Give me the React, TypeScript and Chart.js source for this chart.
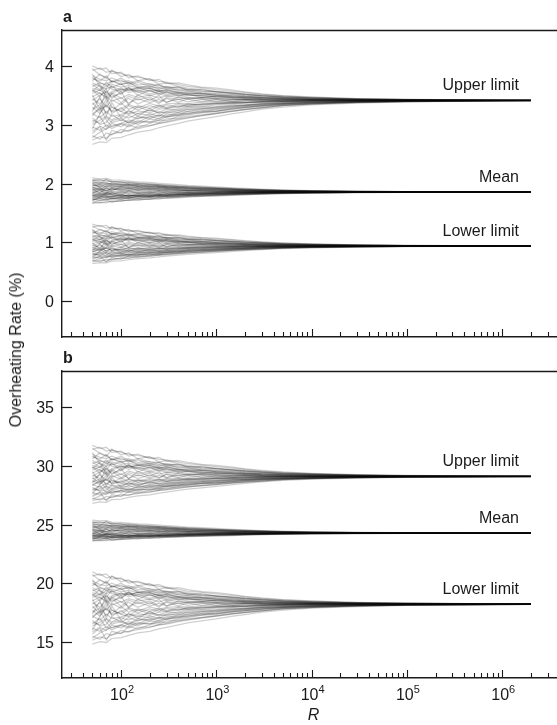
import React, { useEffect, useRef } from "react";
import { Chart, registerables } from "chart.js";

Chart.register(...registerables);

// Sample counts R at which the running estimates are recorded
const R_STEPS = [50, 60, 70, 80, 100, 120, 150, 200, 250, 300, 400, 500, 700, 1000, 1500, 2000, 3000, 5000, 1e4, 3e4, 1e5, 1e6, 2e6];

// Deviation of each replicate's running estimate from its converged value,
// expressed as a fraction of the band half-width at R = 50
const REPLICATE_DEVIATIONS: number[][] = [
  [0.62, 0.55, 0.7, 0.52, 0.58, 0.46, 0.52, 0.4, 0.44, 0.34, 0.38, 0.3, 0.32, 0.24, 0.22, 0.18, 0.15, 0.11, 0.07, 0.04, 0.02, 0.008, 0.005],
  [-0.45, -0.52, -0.38, -0.5, -0.44, -0.5, -0.36, -0.42, -0.34, -0.38, -0.3, -0.3, -0.24, -0.24, -0.18, -0.16, -0.12, -0.09, -0.06, -0.035, -0.02, -0.006, -0.004],
  [0.1, 0.22, 0.05, 0.18, -0.05, 0.12, 0.02, 0.1, -0.04, 0.08, 0.02, 0.07, 0.04, -0.03, 0.03, 0.02, -0.02, 0.015, 0.0, 0.008, 0.003, 0.001, 0.0],
  [-0.9, -0.82, -0.86, -0.76, -0.72, -0.68, -0.64, -0.58, -0.52, -0.5, -0.44, -0.4, -0.34, -0.3, -0.25, -0.21, -0.17, -0.12, -0.08, -0.045, -0.025, -0.009, -0.006],
  [0.85, 0.92, 0.8, 0.84, 0.76, 0.7, 0.66, 0.6, 0.54, 0.52, 0.45, 0.4, 0.36, 0.31, 0.26, 0.22, 0.17, 0.13, 0.09, 0.05, 0.028, 0.01, 0.006],
  [-0.2, -0.1, -0.28, -0.15, -0.25, -0.12, -0.22, -0.12, -0.18, -0.1, -0.15, -0.08, -0.11, -0.07, -0.06, -0.05, -0.04, -0.03, -0.02, -0.01, -0.005, -0.002, -0.001],
  [0.35, 0.28, 0.42, 0.32, 0.26, 0.34, 0.24, 0.28, 0.2, 0.25, 0.16, 0.18, 0.13, 0.12, 0.09, 0.08, 0.06, 0.04, 0.03, 0.015, 0.008, 0.003, 0.002],
  [-0.6, -0.68, -0.56, -0.64, -0.54, -0.6, -0.5, -0.48, -0.5, -0.42, -0.4, -0.36, -0.33, -0.28, -0.23, -0.2, -0.16, -0.11, -0.08, -0.045, -0.025, -0.009, -0.006],
  [0.05, -0.08, 0.12, -0.02, 0.08, -0.06, 0.05, -0.05, 0.03, -0.04, 0.04, -0.03, 0.02, 0.03, -0.01, 0.02, 0.0, -0.01, 0.005, 0.0, 0.002, 0.0, 0.0],
  [0.5, 0.4, 0.32, 0.4, 0.3, 0.36, 0.28, 0.34, 0.25, 0.28, 0.23, 0.19, 0.19, 0.15, 0.13, 0.1, 0.08, 0.06, 0.04, 0.02, 0.012, 0.004, 0.003],
  [-0.3, -0.4, -0.25, -0.36, -0.32, -0.25, -0.3, -0.22, -0.27, -0.2, -0.22, -0.17, -0.15, -0.14, -0.1, -0.1, -0.07, -0.05, -0.035, -0.02, -0.01, -0.004, -0.002],
  [0.98, 0.88, 0.92, 0.76, 0.8, 0.64, 0.7, 0.56, 0.6, 0.48, 0.5, 0.44, 0.38, 0.35, 0.29, 0.24, 0.19, 0.14, 0.1, 0.055, 0.032, 0.011, 0.007],
  [-1.0, -0.94, -0.96, -0.86, -0.84, -0.78, -0.72, -0.68, -0.62, -0.58, -0.52, -0.47, -0.42, -0.37, -0.3, -0.26, -0.2, -0.15, -0.1, -0.06, -0.033, -0.012, -0.008],
  [0.2, 0.3, 0.15, 0.25, 0.35, 0.22, 0.3, 0.18, 0.26, 0.16, 0.2, 0.14, 0.15, 0.1, 0.1, 0.07, 0.05, 0.04, 0.025, 0.013, 0.007, 0.002, 0.001],
  [-0.7, -0.58, -0.66, -0.52, -0.6, -0.48, -0.54, -0.42, -0.46, -0.36, -0.34, -0.31, -0.27, -0.24, -0.19, -0.16, -0.13, -0.09, -0.06, -0.035, -0.02, -0.007, -0.004],
  [0.7, 0.6, 0.56, 0.64, 0.52, 0.56, 0.44, 0.47, 0.38, 0.4, 0.33, 0.31, 0.26, 0.24, 0.19, 0.16, 0.13, 0.09, 0.065, 0.035, 0.02, 0.007, 0.004],
  [-0.1, 0.05, -0.15, 0.02, -0.1, 0.06, -0.08, 0.05, -0.07, 0.06, -0.04, 0.04, -0.03, 0.02, -0.03, 0.0, 0.015, -0.01, 0.0, -0.004, 0.002, 0.0, 0.0],
  [-0.55, -0.45, -0.36, -0.44, -0.34, -0.4, -0.3, -0.34, -0.26, -0.29, -0.23, -0.21, -0.18, -0.16, -0.13, -0.1, -0.08, -0.06, -0.04, -0.024, -0.013, -0.004, -0.002],
  [0.4, 0.5, 0.46, 0.56, 0.46, 0.5, 0.4, 0.38, 0.36, 0.33, 0.3, 0.27, 0.22, 0.2, 0.17, 0.14, 0.11, 0.08, 0.055, 0.03, 0.016, 0.005, 0.003],
  [-0.8, -0.88, -0.74, -0.78, -0.66, -0.7, -0.58, -0.57, -0.52, -0.48, -0.42, -0.39, -0.35, -0.3, -0.24, -0.21, -0.17, -0.12, -0.085, -0.05, -0.027, -0.01, -0.006],
  [0.75, 0.4, 0.1, -0.15, -0.25, -0.32, -0.24, -0.28, -0.2, -0.18, -0.15, -0.1, -0.09, -0.06, -0.04, -0.04, -0.02, -0.02, -0.01, -0.005, 0.0, 0.0, 0.0],
  [-0.65, -0.3, -0.05, 0.2, 0.32, 0.28, 0.36, 0.26, 0.3, 0.21, 0.22, 0.16, 0.13, 0.1, 0.08, 0.06, 0.04, 0.03, 0.02, 0.01, 0.005, 0.002, 0.001],
  [0.3, 0.1, 0.35, 0.56, 0.44, 0.52, 0.36, 0.42, 0.32, 0.38, 0.28, 0.26, 0.21, 0.18, 0.15, 0.12, 0.09, 0.07, 0.045, 0.025, 0.014, 0.004, 0.002],
  [-0.35, -0.15, -0.45, -0.6, -0.52, -0.44, -0.5, -0.36, -0.42, -0.31, -0.32, -0.25, -0.23, -0.19, -0.15, -0.13, -0.1, -0.075, -0.05, -0.03, -0.016, -0.005, -0.003],
  [0.15, -0.2, 0.3, 0.05, 0.26, -0.1, 0.16, 0.0, 0.14, -0.05, 0.1, 0.03, 0.08, 0.05, 0.02, 0.03, 0.015, 0.0, 0.008, 0.004, 0.002, 0.0, 0.0],
  [-0.25, 0.1, -0.35, -0.05, -0.4, -0.22, -0.36, -0.18, -0.3, -0.25, -0.19, -0.14, -0.14, -0.1, -0.08, -0.06, -0.05, -0.035, -0.025, -0.013, -0.007, -0.002, -0.001],
  [0.55, 0.75, 0.62, 0.86, 0.68, 0.74, 0.56, 0.62, 0.46, 0.5, 0.4, 0.35, 0.3, 0.26, 0.21, 0.18, 0.14, 0.1, 0.07, 0.04, 0.022, 0.008, 0.005],
  [-0.75, -0.6, -0.9, -0.68, -0.74, -0.56, -0.62, -0.52, -0.44, -0.46, -0.37, -0.33, -0.28, -0.25, -0.2, -0.17, -0.13, -0.1, -0.07, -0.04, -0.022, -0.008, -0.005],
  [0.0, 0.15, 0.25, 0.1, 0.2, 0.32, 0.24, 0.14, 0.2, 0.12, 0.15, 0.09, 0.08, 0.07, 0.05, 0.04, 0.03, 0.02, 0.01, 0.005, 0.003, 0.001, 0.0],
  [-0.15, -0.3, -0.1, -0.24, -0.06, -0.2, -0.12, -0.18, -0.1, -0.16, -0.08, -0.11, -0.07, -0.06, -0.05, -0.05, -0.03, -0.02, -0.015, -0.008, -0.004, -0.001, 0.0],
  [0.45, 0.3, 0.52, 0.36, 0.48, 0.28, 0.36, 0.34, 0.26, 0.3, 0.21, 0.22, 0.18, 0.15, 0.11, 0.1, 0.08, 0.05, 0.035, 0.02, 0.01, 0.003, 0.002],
  [-0.5, -0.35, -0.6, -0.46, -0.4, -0.52, -0.4, -0.38, -0.33, -0.35, -0.27, -0.25, -0.2, -0.18, -0.14, -0.12, -0.09, -0.07, -0.045, -0.026, -0.014, -0.005, -0.003],
  [0.25, 0.45, 0.2, 0.42, 0.17, 0.38, 0.14, 0.3, 0.16, 0.24, 0.12, 0.17, 0.09, 0.12, 0.07, 0.08, 0.05, 0.035, 0.02, 0.01, 0.005, 0.002, 0.001],
  [-0.05, -0.25, 0.05, -0.3, -0.16, -0.3, -0.14, -0.24, -0.13, -0.18, -0.12, -0.14, -0.09, -0.08, -0.06, -0.05, -0.035, -0.025, -0.015, -0.008, -0.004, -0.001, 0.0],
  [0.9, 0.72, 0.66, 0.52, 0.64, 0.5, 0.56, 0.46, 0.44, 0.38, 0.38, 0.31, 0.27, 0.25, 0.2, 0.17, 0.13, 0.1, 0.07, 0.038, 0.02, 0.007, 0.004],
  [-0.4, -0.55, -0.5, -0.32, -0.46, -0.34, -0.42, -0.3, -0.36, -0.26, -0.27, -0.2, -0.19, -0.15, -0.12, -0.11, -0.08, -0.06, -0.04, -0.023, -0.012, -0.004, -0.002],
  [0.65, 0.5, 0.42, 0.46, 0.38, 0.42, 0.35, 0.36, 0.28, 0.31, 0.24, 0.21, 0.19, 0.15, 0.12, 0.11, 0.08, 0.06, 0.04, 0.024, 0.013, 0.004, 0.002],
  [-0.85, -0.72, -0.64, -0.58, -0.52, -0.56, -0.46, -0.5, -0.4, -0.38, -0.34, -0.28, -0.26, -0.21, -0.17, -0.14, -0.11, -0.08, -0.055, -0.032, -0.017, -0.006, -0.004],
  [0.3, 0.2, 0.1, 0.22, 0.06, 0.17, 0.09, 0.15, 0.07, 0.13, 0.08, 0.06, 0.07, 0.05, 0.03, 0.03, 0.02, 0.012, 0.008, 0.004, 0.002, 0.001, 0.0],
  [-0.3, -0.2, -0.12, -0.26, -0.19, -0.09, -0.17, -0.07, -0.13, -0.08, -0.06, -0.07, -0.04, -0.03, -0.03, -0.02, -0.015, -0.008, -0.005, -0.003, -0.001, 0.0, 0.0],
];

const BAND_NAMES = ["Upper limit", "Mean", "Lower limit"];

// Panel a: converged values and band half-widths (above / below) at R = 50
const PANEL_A_CENTRES = [3.42, 1.86, 0.94];
const PANEL_A_SPREAD_UP = [0.6, 0.24, 0.38];
const PANEL_A_SPREAD_DOWN = [0.75, 0.2, 0.3];
const PANEL_A_Y_TICKS = [0, 1, 2, 3, 4];
const PANEL_A_Y_RANGE = [-0.61, 4.62];

// Panel b
const PANEL_B_CENTRES = [29.12, 24.29, 18.24];
const PANEL_B_SPREAD_UP = [2.7, 1.1, 2.8];
const PANEL_B_SPREAD_DOWN = [2.3, 0.7, 3.4];
const PANEL_B_Y_TICKS = [15, 20, 25, 30, 35];
const PANEL_B_Y_RANGE = [11.95, 38.1];

const X_RANGE = [24, 3.76e6];
const X_DECADE_EXPONENTS = [2, 3, 4, 5, 6];
const X_MINOR_MULTIPLIERS = [2, 3, 4, 5, 6, 7, 8, 9];
const LABEL_R = 1.5e6;

const FONT = '"Liberation Sans", Arial, Helvetica, sans-serif';
const INK = "#1a1a1a";
const W = 557;

function buildDatasets(centres: number[], up: number[], down: number[]) {
  const sets: any[] = [];
  centres.forEach((c, k) => {
    const flip = k === 1 ? -1 : 1;
    REPLICATE_DEVIATIONS.forEach((devs) => {
      sets.push({
        data: R_STEPS.map((r, j) => {
          const d = devs[j] * flip;
          return { x: r, y: c + d * (d > 0 ? up[k] : down[k]) };
        }),
        borderColor: "rgba(0,0,0,0.19)",
        borderWidth: 1.25,
        pointRadius: 0,
        tension: 0,
        fill: false,
      });
    });
  });
  return sets;
}

function panelPlugin(opts: {
  letter: string;
  letterY: number;
  yTicks: number[];
  centres: number[];
  showXLabels: boolean;
}) {
  return {
    id: "panelDecor",
    afterDraw(chart: any) {
      const ctx = chart.ctx as CanvasRenderingContext2D;
      const { left, right, top, bottom } = chart.chartArea;
      const xs = chart.scales.x;
      const ys = chart.scales.y;
      ctx.save();
      ctx.strokeStyle = INK;
      ctx.fillStyle = INK;

      // top frame line
      ctx.lineWidth = 1.4;
      ctx.beginPath();
      ctx.moveTo(left, top + 0.5);
      ctx.lineTo(right, top + 0.5);
      ctx.stroke();

      // y ticks (inward) and labels
      ctx.lineWidth = 1.2;
      ctx.font = `16px ${FONT}`;
      ctx.textAlign = "right";
      ctx.textBaseline = "middle";
      opts.yTicks.forEach((v) => {
        const py = Math.round(ys.getPixelForValue(v)) + 0.5;
        ctx.beginPath();
        ctx.moveTo(left, py);
        ctx.lineTo(left + 10, py);
        ctx.stroke();
        ctx.fillText(String(v), left - 8, py + 1);
      });

      // x ticks (inward)
      const xTick = (v: number, len: number) => {
        const px = Math.round(xs.getPixelForValue(v)) + 0.5;
        if (px < left || px > right) return;
        ctx.beginPath();
        ctx.moveTo(px, bottom);
        ctx.lineTo(px, bottom - len);
        ctx.stroke();
      };
      ctx.lineWidth = 1.1;
      for (let e = 1; e <= 6; e++) {
        const base = Math.pow(10, e);
        if (X_DECADE_EXPONENTS.includes(e)) xTick(base, 8);
        X_MINOR_MULTIPLIERS.forEach((m) => xTick(m * base, 5));
      }

      // decade labels 10^n
      if (opts.showXLabels) {
        X_DECADE_EXPONENTS.forEach((e) => {
          const px = xs.getPixelForValue(Math.pow(10, e));
          ctx.font = `16px ${FONT}`;
          const wBase = ctx.measureText("10").width;
          ctx.font = `11px ${FONT}`;
          const wExp = ctx.measureText(String(e)).width;
          const x0 = px - (wBase + wExp) / 2 + 1;
          ctx.textAlign = "left";
          ctx.textBaseline = "alphabetic";
          ctx.font = `16px ${FONT}`;
          ctx.fillText("10", x0, bottom + 22);
          ctx.font = `11px ${FONT}`;
          ctx.fillText(String(e), x0 + wBase, bottom + 15);
        });
        ctx.font = `italic 16px ${FONT}`;
        ctx.textAlign = "center";
        ctx.fillText("R", (left + right) / 2 + 4, bottom + 42);
      }

      // band labels above converged lines
      ctx.font = `16px ${FONT}`;
      ctx.textAlign = "right";
      ctx.textBaseline = "alphabetic";
      opts.centres.forEach((c, k) => {
        const px = xs.getPixelForValue(LABEL_R);
        const py = ys.getPixelForValue(c);
        ctx.fillText(BAND_NAMES[k], px, py - 10);
      });

      // panel letter
      ctx.font = `bold 16px ${FONT}`;
      ctx.textAlign = "left";
      ctx.fillText(opts.letter, left + 1, opts.letterY);
      ctx.restore();
    },
  };
}

function makeChart(
  canvas: HTMLCanvasElement,
  datasets: any[],
  yRange: number[],
  padTop: number,
  xHeight: number,
  plugin: any
) {
  return new Chart(canvas, {
    type: "line",
    data: { datasets },
    options: {
      animation: false,
      responsive: false,
      events: [],
      layout: { padding: { top: padTop, left: 0, right: 0, bottom: 0 } },
      plugins: { legend: { display: false }, tooltip: { enabled: false } },
      scales: {
        x: {
          type: "logarithmic",
          min: X_RANGE[0],
          max: X_RANGE[1],
          grid: { display: false, drawTicks: false },
          ticks: { display: false },
          border: { display: true, color: INK, width: 1.4 },
          afterFit: (s: any) => {
            s.height = xHeight;
          },
        },
        y: {
          type: "linear",
          min: yRange[0],
          max: yRange[1],
          grid: { display: false, drawTicks: false },
          ticks: { display: false },
          border: { display: true, color: INK, width: 1.4 },
          afterFit: (s: any) => {
            s.width = 62;
          },
        },
      },
    } as any,
    plugins: [plugin],
  });
}

export default function App() {
  const refA = useRef<HTMLCanvasElement>(null);
  const refB = useRef<HTMLCanvasElement>(null);

  useEffect(() => {
    const a = makeChart(
      refA.current!,
      buildDatasets(PANEL_A_CENTRES, PANEL_A_SPREAD_UP, PANEL_A_SPREAD_DOWN),
      PANEL_A_Y_RANGE,
      30,
      8,
      panelPlugin({ letter: "a", letterY: 22, yTicks: PANEL_A_Y_TICKS, centres: PANEL_A_CENTRES, showXLabels: false })
    );
    const b = makeChart(
      refB.current!,
      buildDatasets(PANEL_B_CENTRES, PANEL_B_SPREAD_UP, PANEL_B_SPREAD_DOWN),
      PANEL_B_Y_RANGE,
      26,
      47,
      panelPlugin({ letter: "b", letterY: 18, yTicks: PANEL_B_Y_TICKS, centres: PANEL_B_CENTRES, showXLabels: true })
    );
    return () => {
      a.destroy();
      b.destroy();
    };
  }, []);

  return (
    <div style={{ position: "absolute", left: 0, top: 0, width: W, height: 725, background: "#fff", overflow: "hidden" }}>
      <canvas ref={refA} width={W} height={345} style={{ position: "absolute", left: 0, top: 0 }} />
      <canvas ref={refB} width={W} height={380} style={{ position: "absolute", left: 0, top: 345 }} />
      <div
        style={{
          position: "absolute",
          left: 16,
          top: 350,
          transform: "translate(-50%, -50%) rotate(-90deg)",
          whiteSpace: "nowrap",
          font: `16px ${FONT}`,
          color: INK,
        }}
      >
        Overheating Rate (%)
      </div>
    </div>
  );
}
